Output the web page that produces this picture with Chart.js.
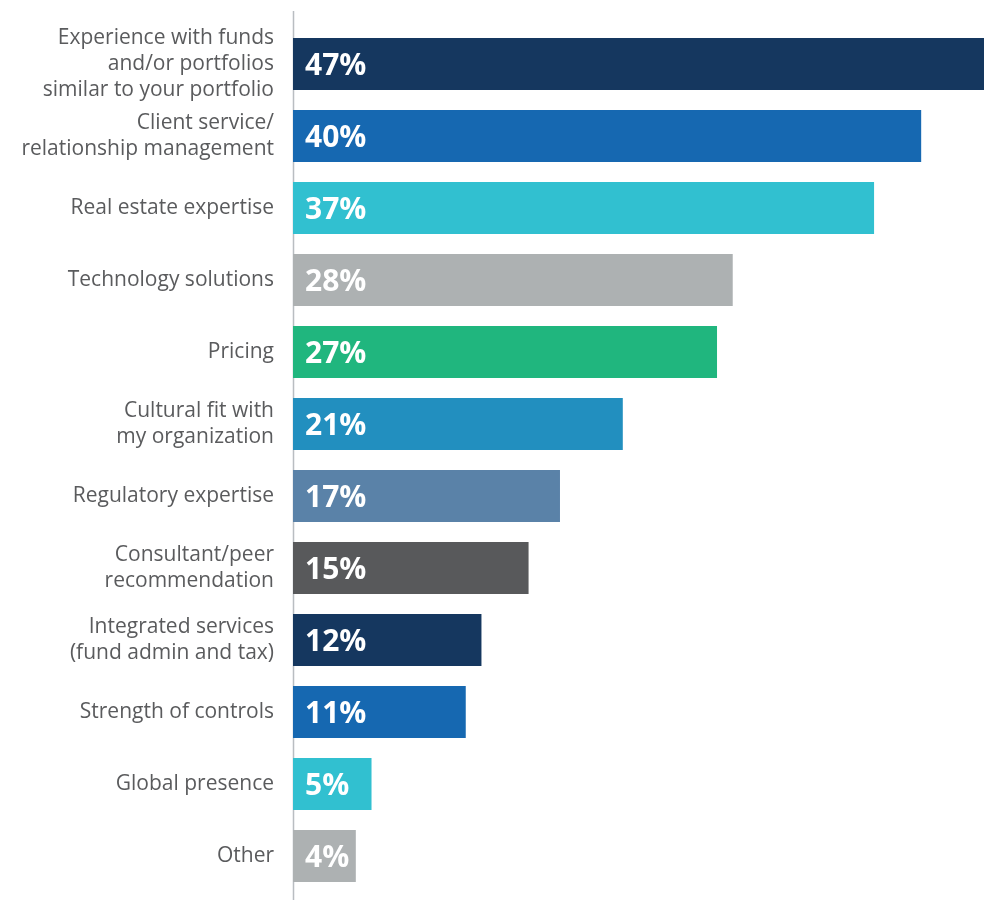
<!DOCTYPE html>
<html>
<head>
<meta charset="utf-8">
<script src="https://cdn.jsdelivr.net/npm/chart.js@4/dist/chart.umd.min.js"></script>
<style>
  html, body { margin: 0; padding: 0; background: #ffffff; }
  #wrap { position: relative; width: 984px; height: 900px; }
</style>
</head>
<body>
<div id="wrap"><canvas id="barChart"></canvas></div>
<script>
// category labels (multi-line ones split into arrays)
var categories = [
    ["Experience with funds", "and/or portfolios", "similar to your portfolio"],
    ["Client service/", "relationship management"],
    "Real estate expertise",
    "Technology solutions",
    "Pricing",
    ["Cultural fit with", "my organization"],
    "Regulatory expertise",
    ["Consultant/peer", "recommendation"],
    ["Integrated services", "(fund admin and tax)"],
    "Strength of controls",
    "Global presence",
    "Other"
];

// share of respondents, percent
var percents = [47, 40, 37, 28, 27, 21, 17, 15, 12, 11, 5, 4];

var barColors = [
    "#15375f", "#1668b1", "#31c0d0", "#adb1b2",
    "#20b67e", "#228fbf", "#5a82a8", "#58595b",
    "#15375f", "#1668b1", "#31c0d0", "#adb1b2"
];

var labelFont = "'Open Sans', 'Noto Sans', sans-serif";

// white value text sitting at the left end of each bar
var valueLabels = {
    id: "valueLabels",
    afterDatasetsDraw: function (chart) {
        var ctx = chart.ctx;
        var meta = chart.getDatasetMeta(0);
        ctx.save();
        ctx.fillStyle = "#ffffff";
        ctx.font = "bold 30px " + labelFont;
        ctx.textAlign = "left";
        ctx.textBaseline = "middle";
        meta.data.forEach(function (bar, i) {
            ctx.fillText(percents[i] + "%", bar.base + 12, bar.y + 2);
        });
        ctx.restore();
    }
};

// thin vertical axis line, running a little past the plot area
var axisLine = {
    id: "axisLine",
    beforeDatasetsDraw: function (chart) {
        var ctx = chart.ctx;
        var area = chart.chartArea;
        ctx.save();
        ctx.strokeStyle = "#b9bdc1";
        ctx.lineWidth = 1.5;
        ctx.beginPath();
        ctx.moveTo(area.left + 0.5, area.top - 17);
        ctx.lineTo(area.left + 0.5, area.bottom + 10);
        ctx.stroke();
        ctx.restore();
    }
};

var canvas = document.getElementById("barChart");
var ctx = canvas.getContext("2d");
canvas.chart = new Chart(ctx, {
    type: "bar",
    data: {
        labels: categories,
        datasets: [{
            data: percents,
            backgroundColor: barColors,
            borderWidth: 0,
            barPercentage: 0.72,
            categoryPercentage: 1.0
        }]
    },
    options: {
        indexAxis: "y",
        responsive: true,
        maintainAspectRatio: false,
        animation: false,
        layout: {
            padding: { top: 28, bottom: 8, left: 0, right: 0 }
        },
        scales: {
            x: {
                display: false,
                min: 0,
                max: 44
            },
            y: {
                grid: { display: false },
                border: { display: false },
                afterFit: function (scale) {
                    scale.width = 293;
                    // tall multi-line labels should not push the plot area in
                    scale.paddingTop = 0;
                    scale.paddingBottom = 0;
                },
                ticks: {
                    autoSkip: false,
                    color: "#5a5b5d",
                    padding: 11,
                    font: { family: labelFont, size: 21, lineHeight: 1.22 }
                }
            }
        },
        plugins: {
            legend: { display: false },
            tooltip: { enabled: false }
        }
    },
    plugins: [axisLine, valueLabels]
});
</script>
</body>
</html>
